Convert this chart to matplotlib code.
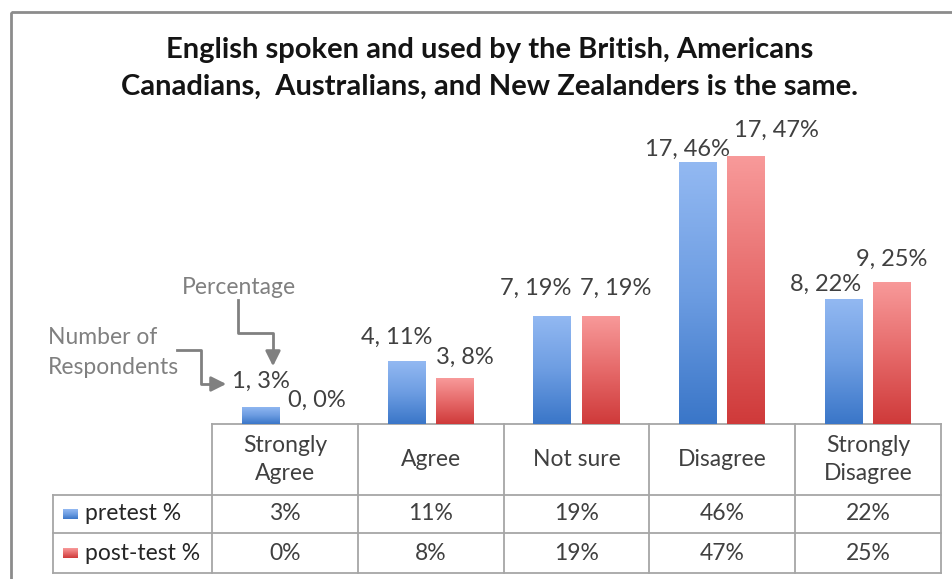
import numpy as np
import matplotlib.pyplot as plt
from matplotlib.colors import LinearSegmentedColormap
from matplotlib.patches import Rectangle
from matplotlib.lines import Line2D

plt.rcParams['font.family'] = ['Lato', 'DejaVu Sans']

categories = ['Strongly\nAgree', 'Agree', 'Not sure', 'Disagree', 'Strongly\nDisagree']
series_names = ['pretest %', 'post-test %']
pre_counts = [1, 4, 7, 17, 8]
pre_pct = [3, 11, 19, 46, 22]
post_counts = [0, 3, 7, 17, 9]
post_pct = [0, 8, 19, 47, 25]

title = ('English spoken and used by the British, Americans\n'
         'Canadians,  Australians, and New Zealanders is the same.')

W, H = 953, 579
fig = plt.figure(figsize=(W / 100, H / 100), dpi=100)

# overlay axes in pixel units for frame, table and callouts
ov = fig.add_axes([0, 0, 1, 1])
ov.set_xlim(0, W)
ov.set_ylim(H, 0)
ov.axis('off')

left, right, base = 212, 941, 424
ax = fig.add_axes([left / W, (H - base) / H, (right - left) / W, 285 / H])

blue_cm = LinearSegmentedColormap.from_list('b', ['#3a76c8', '#6d9de2', '#93b9f2'])
red_cm = LinearSegmentedColormap.from_list('r', ['#cf3a3a', '#e66a6a', '#f89a9a'])

x = np.arange(len(categories))
bw, off = 0.26, 0.165
grad = np.linspace(0, 1, 256).reshape(-1, 1)


def gradient_bars(xs, vals, cmap):
    bars = ax.bar(xs, vals, bw, color='none', edgecolor='none')
    for b in bars:
        if b.get_height() <= 0:
            continue
        im = ax.imshow(grad, extent=[b.get_x(), b.get_x() + b.get_width(), 0, b.get_height()],
                       origin='lower', aspect='auto', cmap=cmap, zorder=2)
        im.set_clip_path(b)
    return bars


gradient_bars(x - off, pre_pct, blue_cm)
gradient_bars(x + off, post_pct, red_cm)
ax.set_xlim(-0.5, 4.5)
ax.set_ylim(0, 50)
ax.axis('off')

# data labels "count, percent"
pre_off = [(0, 26), (-10, 24), (-17, 27), (-11, 12), (-18, 14)]
post_off = [(8, 24), (10, 21), (15, 27), (30, 26), (0, 22)]
lab_kw = dict(textcoords='offset pixels', ha='center', va='center',
              fontsize=17, color='#404040', annotation_clip=False)
for i in range(len(categories)):
    ax.annotate(f'{pre_counts[i]}, {pre_pct[i]}%', xy=(x[i] - off, pre_pct[i]),
                xytext=pre_off[i], **lab_kw)
    ax.annotate(f'{post_counts[i]}, {post_pct[i]}%', xy=(x[i] + off, post_pct[i]),
                xytext=post_off[i], **lab_kw)

# outer chart frame
ov.add_patch(Rectangle((11, 12), 960, 600, fill=False, edgecolor='#8c8c8c', lw=2))

ov.text(490, 50, title.split('\n')[0], ha='center', va='center',
        fontsize=21, fontweight='bold', color='#141414')
ov.text(490, 87, title.split('\n')[1], ha='center', va='center',
        fontsize=21, fontweight='bold', color='#141414')

# data table under the bars
cw = (right - left) / len(categories)
leg_left = 53
rows = [424, 495, 533, 573]
lc, lw = '#a6a6a6', 1.3
ov.add_line(Line2D([left, right], [rows[0], rows[0]], color=lc, lw=lw))
for r in rows[1:]:
    ov.add_line(Line2D([leg_left, right], [r, r], color=lc, lw=lw))
ov.add_line(Line2D([leg_left, leg_left], [rows[1], rows[3]], color=lc, lw=lw))
for i in range(len(categories) + 1):
    ov.add_line(Line2D([left + i * cw] * 2, [rows[0], rows[3]], color=lc, lw=lw))

tk = dict(ha='center', va='center', fontsize=16.5, color='#404040')
for i, cat in enumerate(categories):
    cx = left + (i + 0.5) * cw
    ov.text(cx, (rows[0] + rows[1]) / 2, cat, linespacing=1.4, **tk)
    ov.text(cx, (rows[1] + rows[2]) / 2, f'{pre_pct[i]}%', **tk)
    ov.text(cx, (rows[2] + rows[3]) / 2, f'{post_pct[i]}%', **tk)

for j, (name, cm) in enumerate(zip(series_names, [blue_cm, red_cm])):
    cy = (rows[j + 1] + rows[j + 2]) / 2
    ov.imshow(grad, extent=[63, 78, cy + 5, cy - 5], origin='lower', aspect='auto', cmap=cm)
    ov.text(85, cy, name, ha='left', va='center', fontsize=16.5, color='#262626')
ov.set_xlim(0, W)
ov.set_ylim(H, 0)

# callouts explaining the label format
gray = '#808080'
ov.text(239, 288, 'Percentage', ha='center', va='center', fontsize=16.5, color=gray)
ov.text(48, 338, 'Number of', ha='left', va='center', fontsize=16.5, color=gray)
ov.text(48, 368, 'Respondents', ha='left', va='center', fontsize=16.5, color=gray)
ov.plot([238, 238, 273, 273], [300, 333, 333, 356], color=gray, lw=2)
ov.annotate('', xy=(273, 369), xytext=(273, 354),
            arrowprops=dict(arrowstyle='-|>,head_length=0.9,head_width=0.45', color=gray, lw=2))
ov.plot([177, 201, 201, 215], [350, 350, 384, 384], color=gray, lw=2)
ov.annotate('', xy=(229, 384), xytext=(213, 384),
            arrowprops=dict(arrowstyle='-|>,head_length=0.9,head_width=0.45', color=gray, lw=2))

fig.savefig('out.png', dpi=100, facecolor='white')
